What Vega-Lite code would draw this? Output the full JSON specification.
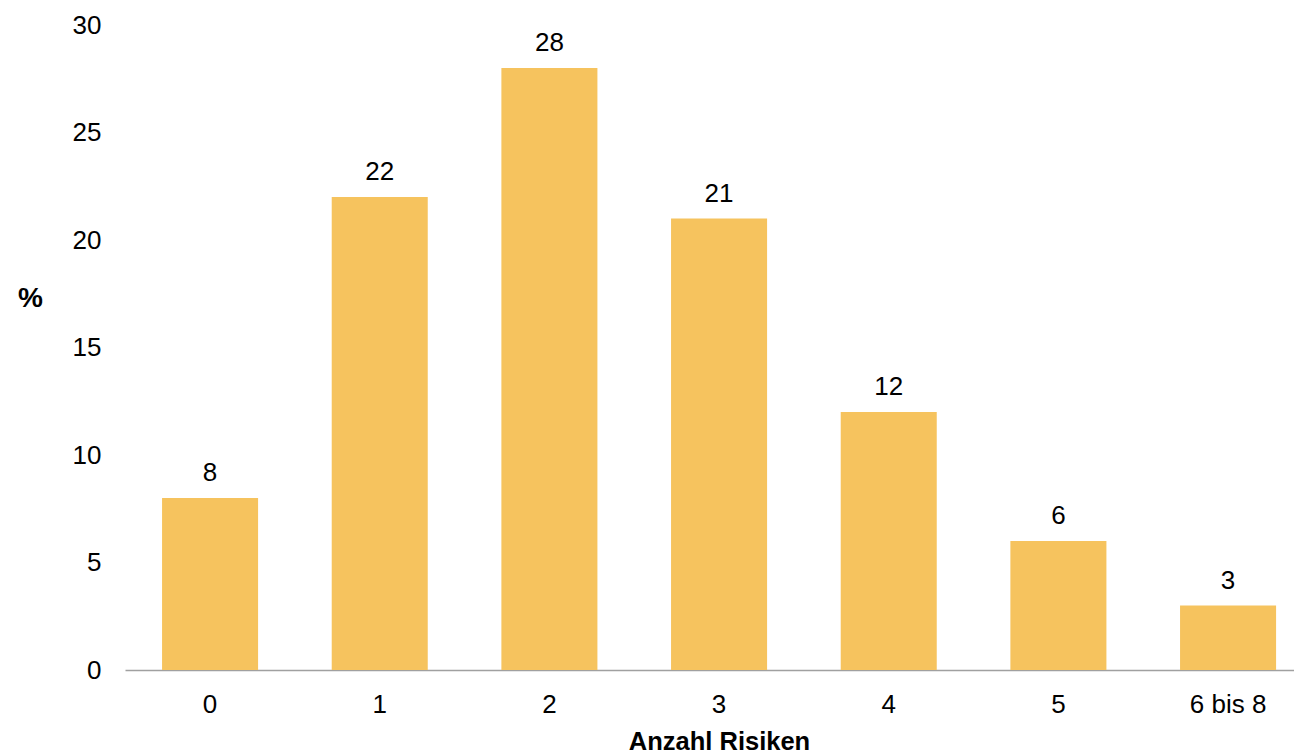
{
  "$schema": "https://vega.github.io/schema/vega-lite/v6.json",
  "width": 1169,
  "height": 645,
  "autosize": {"type": "none"},
  "padding": {"left": 125, "top": 25, "right": 0, "bottom": 84},
  "background": "white",
  "config": {
    "view": {"stroke": null},
    "font": "Liberation Sans"
  },
  "data": {
    "values": [
      {"Anzahl": "0", "Prozent": 8},
      {"Anzahl": "1", "Prozent": 22},
      {"Anzahl": "2", "Prozent": 28},
      {"Anzahl": "3", "Prozent": 21},
      {"Anzahl": "4", "Prozent": 12},
      {"Anzahl": "5", "Prozent": 6},
      {"Anzahl": "6 bis 8", "Prozent": 3}
    ]
  },
  "encoding": {
    "x": {
      "field": "Anzahl",
      "type": "nominal",
      "sort": null,
      "scale": {"paddingInner": 0.434, "paddingOuter": 0.162, "align": 0.674, "round": false},
      "axis": {
        "title": "Anzahl Risiken",
        "titleFont": "Liberation Sans",
        "titleFontSize": 25.5,
        "titleFontWeight": "bold",
        "titleColor": "black",
        "titleX": 594,
        "titleY": 71,
        "titleBaseline": "middle",
        "titleAlign": "center",
        "labelAngle": 0,
        "labelFontSize": 26,
        "labelColor": "black",
        "labelPadding": 21,
        "ticks": false,
        "domainColor": "#a0a0a0",
        "domainWidth": 1.5,
        "grid": false
      }
    },
    "y": {
      "field": "Prozent",
      "type": "quantitative",
      "scale": {"domain": [0, 30], "nice": false},
      "axis": {
        "title": "%",
        "titleAngle": 0,
        "titleFontSize": 28,
        "titleFontWeight": "bold",
        "titleColor": "black",
        "titleX": -95,
        "titleY": 273,
        "titleAlign": "center",
        "titleBaseline": "middle",
        "values": [0, 5, 10, 15, 20, 25, 30],
        "labelFontSize": 26,
        "labelColor": "black",
        "labelPadding": 24,
        "ticks": false,
        "domain": false,
        "grid": false
      }
    }
  },
  "layer": [
    {"mark": {"type": "bar", "color": "#F6C35E"}},
    {
      "mark": {"type": "text", "fontSize": 26, "color": "black", "baseline": "alphabetic", "dy": -17},
      "encoding": {"text": {"field": "Prozent", "type": "quantitative"}}
    }
  ]
}
